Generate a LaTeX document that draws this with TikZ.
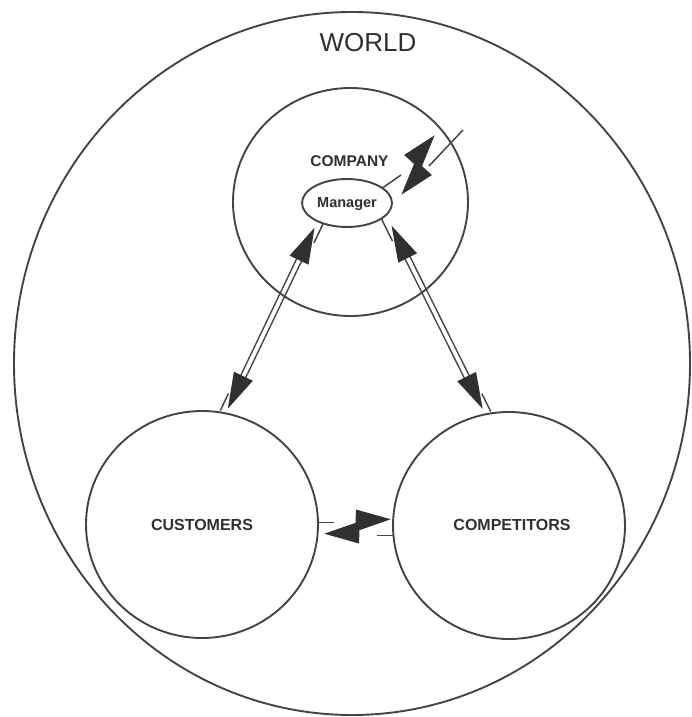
\documentclass[tikz,border=0pt]{standalone}
\usepackage{fontspec}
\setmainfont{Liberation Sans}
\usetikzlibrary{shapes.geometric,calc}
\definecolor{ink}{HTML}{444444}
\definecolor{dark}{HTML}{303030}
\begin{document}
\begin{tikzpicture}[x=1pt,y=-1pt,
  ring/.style={ellipse, draw=ink, line width=1.9pt, inner sep=0pt, outer sep=0pt},
  lbl/.style={text=dark, inner sep=0pt, font=\fontsize{16}{16}\selectfont\bfseries},
  conn/.style={draw=ink, line width=1.5pt},
  shaft/.style={draw=ink, line width=1.5pt, double=white, double distance=3.8pt},
  headfill/.style={fill=dark},
  bolt/.pic={\fill[dark] (34,0) -- (2,-17) -- (-1,-4) -- (-34,0) -- (-2,17) -- (1,4) -- cycle;}
]
\useasboundingbox (0,0) rectangle (691,717);

% outer world
\node[ring, minimum width=676pt, minimum height=703pt] (world) at (352,363.5) {};
\node[text=dark, inner sep=0pt, font=\fontsize{26}{26}\selectfont] (worldlbl) at (368,43) {WORLD};

% the three parties (shapes only, labels below)
\coordinate (companyc) at (350.5,202);
\coordinate (managerc) at (347,203);
\node[ellipse, minimum width=90pt, minimum height=48pt, inner sep=0pt] (manager) at (managerc) {};
\node[ellipse, minimum width=232pt, minimum height=227pt, inner sep=0pt] (customers) at (202,524.5) {};
\node[ellipse, minimum width=232pt, minimum height=227pt, inner sep=0pt] (competitors) at (509,525.5) {};

% two-way links: manager <-> customers, manager <-> competitors
\coordinate (lu) at ($(manager.212)!7pt!(customers.78)$);
\coordinate (ll) at ($(customers.78)!5pt!(manager.212)$);
\coordinate (ru) at ($(manager.343)!12pt!(competitors.102)$);
\coordinate (rl) at ($(competitors.102)!6pt!(manager.343)$);
\draw[shaft, shorten <=30pt, shorten >=30pt] (lu) -- (ll);
\draw[shaft, shorten <=30pt, shorten >=30pt] (ru) -- (rl);
\draw[conn] ($(manager.212)!6pt!90:(customers.78)$) -- ($(lu)!14pt!(ll)!6pt!90:(ll)$);
\draw[conn] ($(customers.78)!6pt!90:(manager.212)$) -- ($(ll)!14pt!(lu)!6pt!90:(lu)$);
\draw[conn] ($(manager.343)!6pt!-90:(competitors.102)$) -- ($(ru)!14pt!(rl)!6pt!-90:(rl)$);
\draw[conn] ($(competitors.102)!6pt!-90:(manager.343)$) -- ($(rl)!14pt!(ru)!6pt!-90:(ru)$);

% circles drawn over the link shafts
\node[ring, minimum width=235pt, minimum height=228pt] (company) at (companyc) {};
\node[ring, minimum width=90pt, minimum height=48pt, fill=white] (managerring) at (managerc) {};
\node[ring, minimum width=232pt, minimum height=227pt] (customersring) at (customers) {};
\node[ring, minimum width=232pt, minimum height=227pt] (competitorsring) at (competitors) {};

% arrow heads
\fill[headfill] (lu) -- ($(lu)!36pt!(ll)!10.5pt!90:(ll)$) -- ($(lu)!36pt!(ll)!10.5pt!-90:(ll)$) -- cycle;
\fill[headfill] (ll) -- ($(ll)!36pt!(lu)!10.5pt!90:(lu)$) -- ($(ll)!36pt!(lu)!10.5pt!-90:(lu)$) -- cycle;
\fill[headfill] (ru) -- ($(ru)!36pt!(rl)!10.5pt!90:(rl)$) -- ($(ru)!36pt!(rl)!10.5pt!-90:(rl)$) -- cycle;
\fill[headfill] (rl) -- ($(rl)!36pt!(ru)!10.5pt!90:(ru)$) -- ($(rl)!36pt!(ru)!10.5pt!-90:(ru)$) -- cycle;

% conflict link from the manager out to the world
\coordinate (boltin) at (401,175);
\coordinate (boltout) at (429,166);
\coordinate (outside) at (463,130);
\draw[conn] (manager.23) -- (boltin);
\draw[conn] (boltout) -- (outside);
\pic[rotate=60.8] at (418,165) {bolt};

% conflict link between customers and competitors
\coordinate (custend) at ($(customers.1)+(16,0)$);
\coordinate (compend) at ($(competitors.185)+(-16,0)$);
\draw[conn] (customers.1) -- (custend);
\draw[conn] (compend) -- (competitors.185);
\pic[rotate=12.3] at (357.5,526.5) {bolt};

% labels
\node[lbl, font=\fontsize{15.5}{16}\selectfont\bfseries] (companylbl) at (349.5,161) {COMPANY};
\node[lbl, font=\fontsize{14.5}{15}\selectfont\bfseries] (managerlbl) at (347,204) {Manager};
\node[lbl] (customerslbl) at (202,525) {CUSTOMERS};
\node[lbl] (competitorslbl) at (512,525) {COMPETITORS};
\end{tikzpicture}
\end{document}
